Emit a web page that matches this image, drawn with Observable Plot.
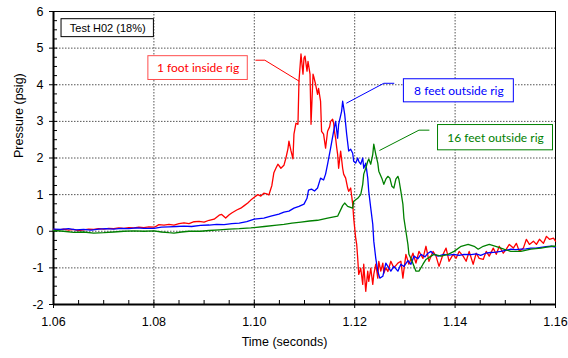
<!DOCTYPE html>
<html>
<head>
<meta charset="utf-8">
<script src="https://cdn.jsdelivr.net/npm/d3@7"></script>
<script src="https://cdn.jsdelivr.net/npm/@observablehq/plot@0.6"></script>
<style>
  html, body { margin: 0; padding: 0; background: #fff; }
  #chart { width: 568px; height: 358px; }
</style>
</head>
<body>
<div id="chart"></div>
<script>
// ---- Data (time in seconds, pressure in psig) ----
const seriesNames = ["1 foot inside rig", "8 feet outside rig", "16 feet outside rig"];
const seriesColors = ["#ff0000", "#0000ff", "#008000"];

const redT = [1.0600,1.0610,1.0620,1.0630,1.0640,1.0650,1.0660,1.0670,1.0680,1.0690,1.0700,1.0710,1.0720,1.0730,1.0740,1.0750,1.0760,1.0770,1.0780,1.0790,1.0800,1.0805,1.0810,1.0820,1.0830,1.0840,1.0850,1.0860,1.0870,1.0880,1.0890,1.0900,1.0910,1.0920,1.0930,1.0935,1.0943,1.0950,1.0955,1.0965,1.0973,1.0980,1.0987,1.0993,1.1000,1.1007,1.1013,1.1019,1.1025,1.1029,1.1035,1.1039,1.1043,1.1047,1.1053,1.1059,1.1063,1.1067,1.1069,1.1073,1.1077,1.1079,1.1083,1.1087,1.1089,1.1093,1.1097,1.1099,1.1101,1.1105,1.1107,1.1111,1.1113,1.1117,1.1119,1.1122,1.1126,1.1128,1.1132,1.1134,1.1138,1.1142,1.1146,1.1150,1.1152,1.1156,1.1158,1.1160,1.1162,1.1164,1.1166,1.1168,1.1172,1.1176,1.1178,1.1182,1.1186,1.1188,1.1192,1.1196,1.1198,1.1202,1.1204,1.1206,1.1208,1.1212,1.1216,1.1218,1.1222,1.1226,1.1228,1.1232,1.1236,1.1238,1.1242,1.1246,1.1248,1.1252,1.1256,1.1258,1.1262,1.1266,1.1272,1.1278,1.1286,1.1292,1.1296,1.1302,1.1308,1.1316,1.1322,1.1328,1.1336,1.1342,1.1348,1.1356,1.1362,1.1368,1.1376,1.1382,1.1388,1.1396,1.1402,1.1408,1.1416,1.1422,1.1428,1.1436,1.1442,1.1448,1.1456,1.1462,1.1468,1.1476,1.1482,1.1488,1.1496,1.1502,1.1508,1.1516,1.1522,1.1528,1.1536,1.1542,1.1548,1.1556,1.1562,1.1568,1.1576,1.1582,1.1588,1.1596,1.1600];
const redP = [0.05,0.04,0.06,0.03,0.05,0.02,0.04,0.06,0.05,0.07,0.06,0.08,0.07,0.09,0.08,0.10,0.09,0.11,0.10,0.12,0.11,0.14,0.18,0.17,0.19,0.17,0.21,0.23,0.21,0.26,0.27,0.25,0.30,0.33,0.44,0.46,0.36,0.45,0.50,0.58,0.63,0.70,0.77,0.85,0.93,1.00,0.96,1.04,1.02,0.99,1.25,1.60,1.72,1.83,1.72,1.80,2.00,2.25,2.46,2.20,1.98,2.65,2.95,2.92,4.10,4.84,4.29,4.73,4.78,4.37,4.64,4.29,2.92,4.29,4.19,4.02,3.74,3.90,3.55,2.73,2.65,2.27,2.73,2.85,3.00,3.06,2.95,2.70,2.54,2.30,2.10,1.72,2.19,1.72,1.56,1.45,1.18,1.09,1.18,0.74,0.36,-0.19,-0.36,-0.74,-1.18,-1.01,-1.45,-0.90,-1.64,-1.09,-1.37,-1.01,-1.45,-1.18,-0.90,-1.28,-0.82,-1.09,-0.87,-1.15,-1.00,-1.10,-0.82,-1.00,-0.87,-0.82,-1.28,-0.63,-0.90,-0.60,-0.87,-0.55,-0.74,-0.41,-0.82,-0.55,-0.68,-0.96,-0.63,-0.46,-0.82,-0.63,-0.74,-0.55,-0.68,-0.82,-0.55,-0.90,-0.60,-0.74,-0.77,-0.55,-0.68,-0.46,-0.63,-0.41,-0.60,-0.49,-0.36,-0.46,-0.33,-0.55,-0.46,-0.22,-0.36,-0.27,-0.36,-0.22,-0.33,-0.14,-0.22,-0.19,-0.27];

const blueT = [1.0600,1.0615,1.0630,1.0645,1.0660,1.0675,1.0690,1.0705,1.0720,1.0735,1.0750,1.0765,1.0780,1.0800,1.0815,1.0830,1.0845,1.0860,1.0875,1.0893,1.0910,1.0925,1.0940,1.0955,1.0970,1.0985,1.1000,1.1019,1.1033,1.1049,1.1059,1.1069,1.1079,1.1089,1.1099,1.1105,1.1108,1.1114,1.1120,1.1126,1.1132,1.1138,1.1142,1.1146,1.1152,1.1158,1.1162,1.1166,1.1168,1.1174,1.1176,1.1180,1.1184,1.1188,1.1192,1.1196,1.1198,1.1202,1.1206,1.1208,1.1212,1.1216,1.1218,1.1222,1.1226,1.1228,1.1232,1.1236,1.1238,1.1242,1.1246,1.1250,1.1256,1.1262,1.1266,1.1272,1.1278,1.1286,1.1292,1.1298,1.1306,1.1312,1.1318,1.1326,1.1332,1.1340,1.1346,1.1352,1.1356,1.1366,1.1378,1.1388,1.1398,1.1408,1.1418,1.1432,1.1442,1.1451,1.1461,1.1471,1.1481,1.1491,1.1501,1.1511,1.1521,1.1531,1.1541,1.1551,1.1561,1.1571,1.1581,1.1591,1.1600];
const blueP = [0.06,0.05,0.07,0.04,0.05,0.03,0.06,0.07,0.06,0.08,0.07,0.09,0.08,0.08,0.11,0.12,0.13,0.14,0.13,0.16,0.17,0.19,0.18,0.21,0.22,0.26,0.33,0.36,0.41,0.47,0.52,0.55,0.63,0.68,0.74,0.90,1.12,1.15,1.10,1.18,1.45,1.40,1.56,1.83,2.27,2.73,3.00,2.54,2.92,3.28,3.55,3.20,2.65,2.19,2.24,2.13,1.91,1.86,2.00,1.91,1.83,2.00,1.72,1.86,1.45,1.09,0.63,0.19,-0.27,-0.74,-1.09,-1.28,-1.23,-0.87,-0.96,-1.09,-0.96,-1.09,-0.90,-0.96,-0.80,-0.90,-0.68,-0.75,-0.63,-0.70,-0.60,-0.55,-0.62,-0.68,-0.63,-0.65,-0.63,-0.66,-0.63,-0.64,-0.62,-0.66,-0.60,-0.58,-0.57,-0.55,-0.52,-0.49,-0.50,-0.49,-0.48,-0.46,-0.46,-0.44,-0.42,-0.41,-0.43];

const greenT = [1.0600,1.0620,1.0640,1.0660,1.0680,1.0700,1.0720,1.0740,1.0760,1.0780,1.0800,1.0815,1.0830,1.0840,1.0855,1.0870,1.0893,1.0910,1.0930,1.0950,1.0970,1.0993,1.1020,1.1045,1.1059,1.1075,1.1093,1.1110,1.1126,1.1146,1.1166,1.1176,1.1180,1.1186,1.1196,1.1198,1.1206,1.1212,1.1216,1.1218,1.1222,1.1226,1.1228,1.1232,1.1236,1.1238,1.1242,1.1246,1.1248,1.1254,1.1258,1.1262,1.1266,1.1270,1.1274,1.1278,1.1282,1.1286,1.1288,1.1292,1.1296,1.1298,1.1302,1.1306,1.1308,1.1312,1.1322,1.1328,1.1336,1.1342,1.1352,1.1358,1.1372,1.1386,1.1398,1.1412,1.1426,1.1438,1.1446,1.1456,1.1468,1.1481,1.1497,1.1511,1.1531,1.1551,1.1571,1.1591,1.1600];
const greenP = [0.02,0.00,-0.03,-0.02,-0.05,-0.04,-0.02,0.00,0.01,0.00,0.01,-0.02,-0.04,-0.05,-0.02,0.00,0.00,0.02,0.04,0.06,0.07,0.09,0.13,0.17,0.19,0.22,0.25,0.28,0.30,0.36,0.41,0.70,0.77,0.68,0.63,0.82,0.90,1.00,1.28,1.56,1.72,1.91,1.97,1.83,2.10,2.38,2.10,1.86,1.64,1.45,1.28,1.42,1.50,1.45,1.23,1.18,1.42,1.50,1.42,1.09,0.74,0.36,0.00,-0.36,-0.63,-0.74,-1.09,-1.09,-0.90,-0.77,-0.68,-0.63,-0.68,-0.63,-0.55,-0.41,-0.36,-0.41,-0.49,-0.41,-0.36,-0.41,-0.49,-0.55,-0.55,-0.49,-0.46,-0.41,-0.41];

// Axis ticks
const xMajor = [1.06, 1.08, 1.10, 1.12, 1.14, 1.16];
const xMinor = [1.065,1.07,1.075,1.085,1.09,1.095,1.105,1.11,1.115,1.125,1.13,1.135,1.145,1.15,1.155];
const yMajor = [-2, -1, 0, 1, 2, 3, 4, 5, 6];
const yMinor = [-1.75,-1.5,-1.25,-0.75,-0.5,-0.25,0.25,0.5,0.75,1.25,1.5,1.75,2.25,2.5,2.75,3.25,3.5,3.75,4.25,4.5,4.75,5.25,5.5,5.75];

// Annotation boxes (data coordinates)
const boxText  = ["Test H02 (18%)", "1 foot inside rig", "8 feet outside rig", "16 feet outside rig"];
const boxT1    = [1.0616, 1.0789, 1.1298, 1.1366];
const boxT2    = [1.0800, 1.0987, 1.1517, 1.1595];
const boxP1    = [5.30, 4.13, 3.52, 2.21];
const boxP2    = [5.79, 4.78, 4.15, 2.90];
const boxStroke = ["#000000", "#ff4d4d", "#0000ff", "#008000"];
const boxFill   = ["#000000", "#ff0000", "#0000ff", "#008000"];
const boxFont   = ["Liberation Sans, Arial, sans-serif", "Lato, sans-serif", "Lato, sans-serif", "Lato, sans-serif"];
const boxSize   = [11, 12, 12, 12];

// Leader lines (data coordinates)
const leaderId = [1,1,1, 2,2,2, 3,3,3];
const leaderT  = [1.1003,1.1021,1.1089, 1.1278,1.1258,1.1184, 1.1348,1.1328,1.1250];
const leaderP  = [4.67,4.67,4.10, 4.04,4.04,3.50, 2.76,2.76,2.21];

// ---- Build tables ----
const rows = [];
[[redT, redP], [blueT, blueP], [greenT, greenP]].forEach(([T, P], i) => {
  T.forEach((t, j) => rows.push({series: seriesNames[i], t, p: P[j]}));
});
const boxes = boxText.map((text, i) => ({
  text, t1: boxT1[i], t2: boxT2[i], p1: boxP1[i], p2: boxP2[i],
  stroke: boxStroke[i], fill: boxFill[i], font: boxFont[i], size: boxSize[i]
}));
const leaders = leaderT.map((t, i) => ({id: leaderId[i], t, p: leaderP[i], color: seriesColors[leaderId[i] - 1]}));

const chart = Plot.plot({
  width: 568,
  height: 358,
  marginLeft: 53,
  marginRight: 13,
  marginTop: 11,
  marginBottom: 54,
  style: {fontFamily: "Liberation Sans, Arial, sans-serif", fontSize: "12.5px", color: "#000", background: "#fff"},
  x: {domain: [1.06, 1.16]},
  y: {domain: [-2, 6]},
  color: {domain: seriesNames, range: seriesColors},
  marks: [
    Plot.gridX(xMajor.slice(1, -1), {stroke: "#555", strokeOpacity: 1, strokeDasharray: "1.5,1.5"}),
    Plot.gridY(yMajor.slice(1, -1), {stroke: "#555", strokeOpacity: 1, strokeDasharray: "1.5,1.5"}),
    Plot.frame({stroke: "#000", strokeWidth: 1}),
    // minor ticks (inward)
    Plot.axisX(xMinor, {tickSize: 4, dy: -4, fill: "none", label: null}),
    Plot.axisY(yMinor, {tickSize: 4, dx: 4, fill: "none", label: null}),
    // major ticks (crossing)
    Plot.axisX(xMajor, {tickSize: 8, dy: -4, fill: "none", label: null}),
    Plot.axisY(yMajor, {tickSize: 8, dx: 4, fill: "none", label: null}),
    // tick labels
    Plot.axisX(xMajor, {tickSize: 0, tickPadding: 13, tickFormat: d3.format(".2f"), label: null}),
    Plot.axisY(yMajor, {tickSize: 0, tickPadding: 10, tickFormat: d => String(d), label: null}),
    Plot.ruleX([1.06], {stroke: "#000", strokeWidth: 2}),
    Plot.ruleY([-2], {stroke: "#000", strokeWidth: 2}),
    // data
    Plot.line(rows, {x: "t", y: "p", z: "series", stroke: "series", strokeWidth: 1.3, curve: "linear"}),
    // annotations
    Plot.line(leaders, {x: "t", y: "p", z: "id", stroke: "color", strokeWidth: 1}),
    Plot.rect(boxes, {x1: "t1", x2: "t2", y1: "p1", y2: "p2", fill: "#fff", stroke: "stroke", strokeWidth: 1}),
    ...boxes.map(b => Plot.text([b], {
      x: d => (d.t1 + d.t2) / 2, y: d => (d.p1 + d.p2) / 2, text: "text",
      fill: "fill", fontFamily: b.font, fontSize: b.size
    })),
    // axis titles
    Plot.text(["Time (seconds)"], {frameAnchor: "bottom", dy: 41, dx: -20, fontSize: 12.5}),
    Plot.text(["Pressure (psig)"], {frameAnchor: "left", dx: -35, rotate: -90, fontSize: 12.5})
  ]
});
document.getElementById("chart").appendChild(chart);
</script>
</body>
</html>
